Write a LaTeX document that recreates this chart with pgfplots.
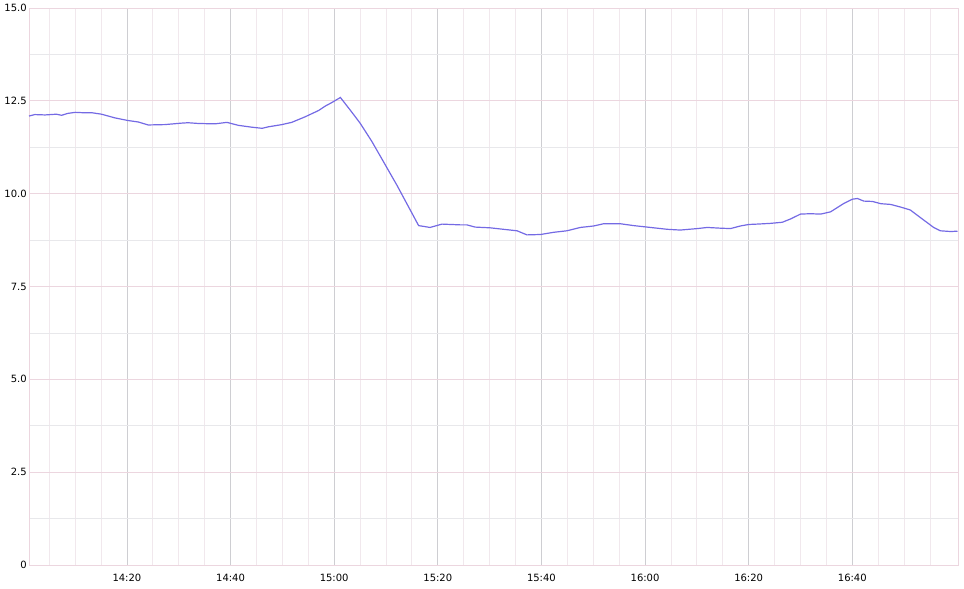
\documentclass[border=0pt]{standalone}
\usepackage{pgfplots}
\pgfplotsset{compat=1.18}
\usepackage{fontspec}
\setmainfont{DejaVu Sans}

\definecolor{lineblue}{RGB}{116,106,228}
\definecolor{majvert}{RGB}{206,206,210}
\definecolor{minvert}{RGB}{241,232,237}
\definecolor{majhor}{RGB}{236,214,223}
\definecolor{minhor}{RGB}{232,232,235}

\begin{document}
\begin{tikzpicture}
\begin{axis}[
    scale only axis,
    width=696.75pt, height=417.75pt,
    xmin=1.1, xmax=180.4,
    ymin=0, ymax=15,
    axis line style={draw=majhor},
    tick style={draw=none},
    xtick={20,40,60,80,100,120,140,160},
    xticklabels={14:20,14:40,15:00,15:20,15:40,16:00,16:20,16:40},
    minor xtick={5,10,15,25,30,35,45,50,55,65,70,75,85,90,95,105,110,115,125,130,135,145,150,155,165,170,175},
    ytick={0,2.5,5,7.5,10,12.5,15},
    yticklabels={0,2.5,5.0,7.5,10.0,12.5,15.0},
    minor ytick={1.25,3.75,6.25,8.75,11.25,13.75},
    xmajorgrids, xminorgrids, ymajorgrids, yminorgrids,
    x grid style={draw=majvert, line width=0.6pt},
    minor x grid style={draw=minvert, line width=0.6pt},
    y grid style={draw=majhor, line width=0.6pt},
    minor y grid style={draw=minhor, line width=0.6pt},
    /pgf/number format/assume math mode=true,
    ticklabel style={font=\fontsize{7.5}{9}\selectfont},
    yticklabel style={inner sep=1.5pt},
    xticklabel style={yshift=-3pt},
    clip=false,
]
\addplot[lineblue, line width=0.9pt] coordinates {
(1.1,12.09)(2.2,12.13)(4.2,12.12)(6.4,12.14)(7.4,12.11)(8.5,12.16)
(10.0,12.19)(11.5,12.18)(13.2,12.18)(15.1,12.14)(17.7,12.04)(20.2,11.97)
(22.2,11.93)(24.1,11.85)(27.3,11.86)(30.6,11.90)(31.8,11.91)(33.8,11.89)
(37.0,11.88)(39.3,11.92)(41.5,11.84)(44.1,11.79)(46.1,11.76)(47.3,11.80)
(49.9,11.86)(51.8,11.92)(54.4,12.07)(57.0,12.24)(58.3,12.36)(59.5,12.45)
(61.2,12.59)(63.1,12.25)(65.0,11.90)(67.3,11.40)(72.1,10.23)(76.3,9.14)
(78.5,9.09)(80.8,9.18)(84.3,9.16)(85.6,9.16)(87.2,9.10)(90.1,9.08)
(94.0,9.02)(95.3,9.00)(97.2,8.89)(99.8,8.90)(102.4,8.96)(104.9,9.00)
(107.5,9.09)(110.1,9.13)(112.0,9.19)(115.2,9.19)(117.8,9.14)(120.4,9.10)
(124.3,9.04)(126.8,9.02)(130.1,9.06)(132.0,9.09)(134.6,9.07)(136.5,9.06)
(138.4,9.13)(140.0,9.17)(141.6,9.18)(144.2,9.20)(146.5,9.23)(148.1,9.32)
(150.0,9.45)(151.9,9.46)(153.9,9.45)(155.8,9.51)(158.4,9.74)(160.0,9.85)
(161.0,9.87)(162.2,9.80)(163.9,9.79)(165.5,9.73)(167.4,9.71)(169.3,9.64)
(171.2,9.56)(173.2,9.35)(175.7,9.09)(177.0,9.00)(179.0,8.98)(180.3,8.99)
};
\coordinate (sw) at (rel axis cs:0,0);
\coordinate (ne) at (rel axis cs:1,1);
\end{axis}
\pgfresetboundingbox
\path ([xshift=-21.75pt,yshift=-18pt]sw) rectangle ([xshift=4.5pt,yshift=6pt]ne);
\end{tikzpicture}
\end{document}
